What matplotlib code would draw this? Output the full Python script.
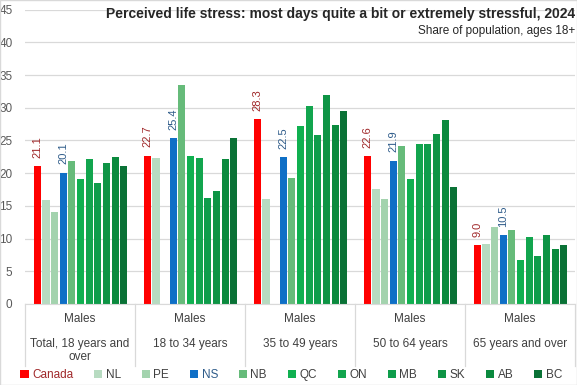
import numpy as np
import matplotlib
matplotlib.use('agg')
import matplotlib.pyplot as plt
from matplotlib.patches import Patch, Rectangle

plt.rcParams['font.family'] = ['Liberation Sans', 'DejaVu Sans']

# data
groups = ["Total, 18 years and\nover", "18 to 34 years", "35 to 49 years",
          "50 to 64 years", "65 years and over"]
regions = ["Canada", "NL", "PE", "NS", "NB", "QC", "ON", "MB", "SK", "AB", "BC"]
vals = {
    "Canada": [21.1, 22.7, 28.3, 22.6, 9.0],
    "NL":     [15.9, 22.3, 16.1, 17.6, 9.2],
    "PE":     [14.1, np.nan, np.nan, 16.1, 11.8],
    "NS":     [20.1, 25.4, 22.5, 21.9, 10.5],
    "NB":     [21.9, 33.5, 19.3, 24.2, 11.3],
    "QC":     [19.1, 22.6, 27.2, 19.1, 6.7],
    "ON":     [22.2, 22.3, 30.3, 24.5, 10.2],
    "MB":     [18.5, 16.2, 25.8, 24.5, 7.3],
    "SK":     [21.6, 17.3, 32.0, 26.0, 10.6],
    "AB":     [22.5, 22.2, 27.4, 28.1, 8.4],
    "BC":     [21.1, 25.4, 29.5, 17.9, 9.0],
}
labelled = {"Canada": "#A0282A", "NS": "#2F5C8A"}

colours = ["#FF0000", "#B7DBC1", "#A3D3AE", "#0F6FC6", "#66BB7A", "#10B050",
           "#12A54E", "#0E9D4B", "#0E9445", "#0B8A3E", "#0A7236"]

fig = plt.figure(figsize=(5.77, 3.85), dpi=100)
ax = fig.add_axes([25/577, 1 - 304/385, 550/577, (304 - 9.7)/385])

x = np.arange(len(groups))
pitch = 0.0785
bw = 0.064
start = -0.5 + 0.073
for i, r in enumerate(regions):
    xs = x + start + i*pitch + pitch/2
    ax.bar(xs, vals[r], width=bw, color=colours[i], zorder=3)
    if r in labelled:
        for xx, v in zip(xs, vals[r]):
            ax.annotate(f"{v:.1f}", (xx, v), xytext=(0, 6), textcoords='offset points',
                        rotation=90, ha='center', va='bottom', fontsize=8,
                        color=labelled[r])

ax.set_xlim(-0.5, 4.5)
ax.set_ylim(0, 45)
ax.set_yticks(np.arange(0, 46, 5))
ax.yaxis.grid(True, color='#D9D9D9', lw=0.9, zorder=0)
ax.tick_params(axis='y', length=0, labelsize=8.5, labelcolor='#595959', pad=9)
ax.set_xticks([])
for s in ['top', 'right', 'left']:
    ax.spines[s].set_visible(False)
ax.spines['bottom'].set_color('#D9D9D9')
ax.spines['bottom'].set_zorder(4)

# category axis labels and separators
for b in np.arange(-0.5, 4.6, 1):
    ax.plot([b, b], [0, -62/6.54], color='#D9D9D9', lw=0.9, clip_on=False)
for xi, g in zip(x, groups):
    ax.text(xi, -15/6.54, "Males", ha='center', va='center', fontsize=8.5, color='#404040')
    ax.text(xi, -34/6.54, g, ha='center', va='top', fontsize=8.5, color='#404040',
            linespacing=1.15)

fig.text(575/577, 1 - 14/385, "Perceived life stress: most days quite a bit or extremely stressful, 2024",
         ha='right', va='center', fontsize=10, fontweight='bold', color='#262626')
fig.text(575/577, 1 - 31/385, "Share of population, ages 18+", ha='right', va='center',
         fontsize=8.5, color='#262626')

handles = [Patch(facecolor=c, edgecolor='none') for c in colours]
leg = fig.legend(handles, regions, loc='center', bbox_to_anchor=(0.505, 1 - 375/385),
                 ncol=11, frameon=False, fontsize=8.5, handlelength=0.7, handleheight=0.7,
                 handletextpad=0.3, columnspacing=1.75, borderaxespad=0, borderpad=0)
for t, r in zip(leg.get_texts(), regions):
    t.set_color(labelled.get(r, '#404040'))

fig.patches.append(Rectangle((0, 0), 1, 1, transform=fig.transFigure, fill=False,
                             edgecolor='#D9D9D9', lw=1))
fig.savefig("out.png", dpi=100)
